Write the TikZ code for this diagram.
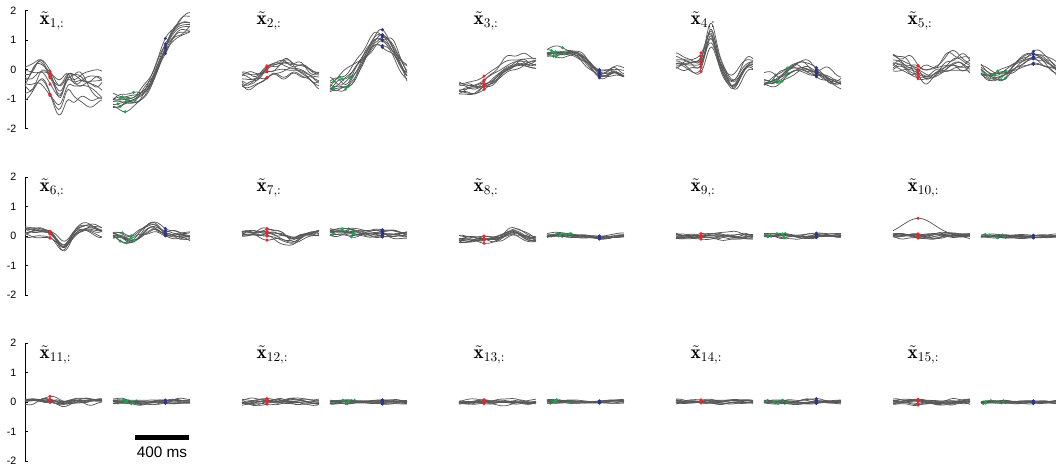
\documentclass[tikz,border=0pt]{standalone}
\usepackage{fontspec}
\setsansfont{Liberation Sans}

\definecolor{trgray}{RGB}{88,88,88}
\definecolor{dotred}{RGB}{236,38,42}
\definecolor{dotgreen}{RGB}{24,168,78}
\definecolor{dotblue}{RGB}{44,52,142}

\tikzset{
  trace/.style={trgray, line width=0.55pt},
  ticklab/.style={anchor=east, font=\sffamily\fontsize{8}{9}\selectfont},
  panellab/.style={anchor=west, font=\Large},
  declare function={gb(\p,\q,\w)=exp(-((\p-\q)/\w)*((\p-\q)/\w));
                    sg(\p,\q,\w)=1/(1+exp(-(\p-\q)/\w));}
}

% random look of one trace
\newcommand{\pickshape}[1]{%
  \pgfmathsetmacro\cka{#1*rand}%
  \pgfmathsetmacro\ckb{#1*rand}%
  \pgfmathsetmacro\ckc{0.6*#1*rand}%
  \pgfmathsetmacro\ckd{0.35*#1*rand}%
  \pgfmathsetmacro\cpa{180*rand}%
  \pgfmathsetmacro\cpb{180*rand}%
  \pgfmathsetmacro\cpc{180*rand}%
  \pgfmathsetmacro\cks{1+0.25*rand}%
}
\newcommand{\tracey}[1]{(\cks*(#1)+\cka+\ckb*sin(430*\uu+\cpa)+\ckc*sin(820*\uu+\cpb)+\ckd*sin(1500*\uu+\cpc))}

% x0, zero line, mean, spread, seed
\newcommand{\lefttraces}[5]{%
  \pgfmathsetseed{#5}
  \foreach \k in {1,...,10}{
    \pickshape{#4}
    \draw[trace] plot[domain=0:1,samples=40,smooth,variable=\uu] ({#1+77*\uu},{#2-29.5*\tracey{#3}});
    \def\uu{0.33}
    \pgfmathsetmacro\yd{#2-29.5*\tracey{#3}}
    \fill[dotred] ({#1+25},\yd) circle (1.7);
  }
}
\newcommand{\righttraces}[5]{%
  \pgfmathsetseed{#5}
  \foreach \k in {1,...,10}{
    \pickshape{#4}
    \draw[trace] plot[domain=0:1,samples=40,smooth,variable=\uu] ({#1+77*\uu},{#2-29.5*\tracey{#3}});
    \pgfmathsetmacro\ug{0.18+0.15*rand}
    \let\uu\ug
    \pgfmathsetmacro\yd{#2-29.5*\tracey{#3}}
    \fill[dotgreen] ({#1+77*\ug},\yd) circle (1.7);
    \def\uu{0.68}
    \pgfmathsetmacro\yd{#2-29.5*\tracey{#3}}
    \fill[dotblue] ({#1+77*0.68},\yd) circle (1.7);
  }
}
% x0, zero line, left mean, left spread, right mean, right spread, seed
\newcommand{\panel}[7]{%
  \lefttraces{#1}{#2}{#3}{#4}{#7}
  \righttraces{#1+88}{#2}{#5}{#6}{#7+50}
}

\begin{document}
\begin{tikzpicture}[x=0.75pt,y=0.75pt,yscale=-1,xscale=1]
\useasboundingbox (0,0) rectangle (1056,469);

%Shape: Axis, one per row
\foreach \r/\yz in {a/69.5,b/236,c/402}{
  \draw[line width=0.6pt] (25,\yz-59) -- (25,\yz+59);
  \foreach \v in {2,1,0,-1,-2}{
    \draw[line width=0.6pt] (25,\yz-29.5*\v) -- (27.5,\yz-29.5*\v);
    \node[ticklab] (t\r\v) at (21,\yz-29.5*\v) {\v};
  }
}

%Curve Lines, row 1
\panel{25}{69.5}{-0.6+0.5*gb(\uu,0.2,0.12)-0.4*gb(\uu,0.45,0.08)+0.2*gb(\uu,0.56,0.06)-0.1*\uu}{0.38}{-1.05+2.6*sg(\uu,0.6,0.1)}{0.16}{11}
\panel{242}{69.5}{-0.2+0.25*sin(360*(\uu-0.35))}{0.22}{-0.6+1.9*gb(\uu,0.66,0.28)}{0.24}{12}
\panel{459}{69.5}{-0.55+0.85*sg(\uu,0.5,0.1)}{0.17}{0.55-0.75*sg(\uu,0.55,0.07)+0.15*gb(\uu,0.88,0.1)}{0.1}{13}
\panel{676}{69.5}{0.2+0.95*gb(\uu,0.45,0.09)-0.65*gb(\uu,0.74,0.13)}{0.18}{-0.15+0.25*sin(360*(\uu-0.25))}{0.15}{14}
\panel{893}{69.5}{0.1+0.2*cos(430*\uu)}{0.22}{0.1+0.3*sin(360*(\uu-0.45))}{0.15}{15}

%Curve Lines, row 2
\panel{25}{236}{0.15-0.45*gb(\uu,0.5,0.12)+0.1*gb(\uu,0.8,0.15)}{0.13}{0.3*gb(\uu,0.52,0.15)-0.12*gb(\uu,0.25,0.1)}{0.11}{16}
\panel{242}{236}{0.1-0.25*gb(\uu,0.65,0.15)}{0.11}{0.15-0.1*\uu}{0.09}{17}
\panel{459}{236}{-0.1+0.25*gb(\uu,0.7,0.15)}{0.09}{0.03*sin(360*\uu)}{0.05}{18}
\panel{676}{236}{0}{0.08}{0.02}{0.06}{19}
\panel{893}{236}{0}{0.07}{0}{0.05}{20}
\draw[trace] plot[domain=0:1,samples=30,smooth,variable=\uu] ({893+77*\uu},{236-29.5*(0.6*gb(\uu,0.33,0.3))});
\fill[dotred] (918,{236-29.5*0.6}) circle (1.7);

%Curve Lines, row 3
\panel{25}{402}{0.05-0.1*gb(\uu,0.5,0.1)}{0.08}{0}{0.06}{21}
\panel{242}{402}{0}{0.08}{0}{0.05}{22}
\panel{459}{402}{0}{0.06}{0}{0.04}{23}
\panel{676}{402}{0}{0.05}{0}{0.05}{24}
\panel{893}{402}{0}{0.07}{0}{0.04}{25}

%Shape: Scale bar
\fill (135,435) rectangle (189,440);
% Text Node
\node[font=\sffamily\fontsize{11.5}{13}\selectfont] (scale) at (162,452) {400 ms};

% Text Node
\node[panellab] (lab1) at (35,21) {$\tilde{\mathbf{x}}_{1,:}$};
% Text Node
\node[panellab] (lab2) at (252,21) {$\tilde{\mathbf{x}}_{2,:}$};
% Text Node
\node[panellab] (lab3) at (469,21) {$\tilde{\mathbf{x}}_{3,:}$};
% Text Node
\node[panellab] (lab4) at (686,21) {$\tilde{\mathbf{x}}_{4,:}$};
% Text Node
\node[panellab] (lab5) at (903,21) {$\tilde{\mathbf{x}}_{5,:}$};
% Text Node
\node[panellab] (lab6) at (35,188) {$\tilde{\mathbf{x}}_{6,:}$};
% Text Node
\node[panellab] (lab7) at (252,188) {$\tilde{\mathbf{x}}_{7,:}$};
% Text Node
\node[panellab] (lab8) at (469,188) {$\tilde{\mathbf{x}}_{8,:}$};
% Text Node
\node[panellab] (lab9) at (686,188) {$\tilde{\mathbf{x}}_{9,:}$};
% Text Node
\node[panellab] (lab10) at (903,188) {$\tilde{\mathbf{x}}_{10,:}$};
% Text Node
\node[panellab] (lab11) at (35,355) {$\tilde{\mathbf{x}}_{11,:}$};
% Text Node
\node[panellab] (lab12) at (252,355) {$\tilde{\mathbf{x}}_{12,:}$};
% Text Node
\node[panellab] (lab13) at (469,355) {$\tilde{\mathbf{x}}_{13,:}$};
% Text Node
\node[panellab] (lab14) at (686,355) {$\tilde{\mathbf{x}}_{14,:}$};
% Text Node
\node[panellab] (lab15) at (903,355) {$\tilde{\mathbf{x}}_{15,:}$};

\end{tikzpicture}
\end{document}
